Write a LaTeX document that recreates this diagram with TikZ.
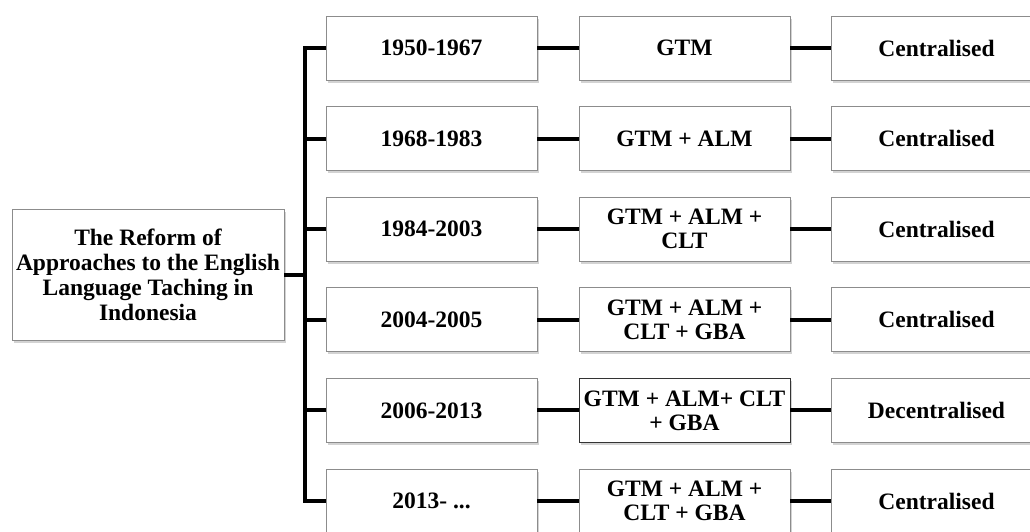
\documentclass[tikz,border=0pt]{standalone}
\usepackage{fontspec}
\setmainfont{Liberation Serif}
\usetikzlibrary{shadows}
\tikzset{
  box/.style={draw=black!45, line width=0.8pt, fill=white, minimum width=211pt, minimum height=64pt,
    inner sep=0pt, align=center, font=\fontsize{23.5}{24}\selectfont\bfseries,
    drop shadow={opacity=0.35, shadow xshift=1.5pt, shadow yshift=-2.5pt}},
  darkbox/.style={box, draw=black!80},
  link/.style={line width=4pt}
}
\begin{document}
\begin{tikzpicture}[x=1pt,y=-1pt]
\useasboundingbox (0,0) rectangle (1030,531);
\node[box, minimum width=272pt, minimum height=131pt, font=\fontsize{23.5}{25}\selectfont\bfseries] (lb) at (148,274.5)
  {The Reform of\\Approaches to the English\\Language Taching in\\Indonesia};
\coordinate (tr) at (305,274.5);
% column 1
\node[box] (a1) at (431.5,48) {1950-1967};
\node[box] (a2) at (431.5,138.6) {1968-1983};
\node[box] (a3) at (431.5,229.2) {1984-2003};
\node[box] (a4) at (431.5,319.8) {2004-2005};
\node[box] (a5) at (431.5,410.4) {2006-2013};
\node[box] (a6) at (431.5,501) {2013- ...};
% column 2
\node[box] (b1) at (684.5,48) {GTM};
\node[box] (b2) at (684.5,138.6) {GTM + ALM};
\node[box] (b3) at (684.5,229.2) {GTM + ALM +\\CLT};
\node[box] (b4) at (684.5,319.8) {GTM + ALM +\\CLT + GBA};
\node[darkbox] (b5) at (684.5,410.4) {GTM + ALM+ CLT\\+ GBA};
\node[box] (b6) at (684.5,501) {GTM + ALM +\\CLT + GBA};
% column 3
\node[box] (c1) at (936.5,48) {Centralised};
\node[box] (c2) at (936.5,138.6) {Centralised};
\node[box] (c3) at (936.5,229.2) {Centralised};
\node[box] (c4) at (936.5,319.8) {Centralised};
\node[box] (c5) at (936.5,410.4) {Decentralised};
\node[box] (c6) at (936.5,501) {Centralised};
% connectors
\draw[link] (lb.east) -- (tr);
\draw[link] (a1.west) -| (tr) |- (a6.west);
\foreach \i in {2,3,4,5} {
  \draw[link] (a\i.west) -- (a\i.west -| tr);
}
\foreach \i in {1,...,6} {
  \draw[link] (a\i.east) -- (b\i.west);
  \draw[link] (b\i.east) -- (c\i.west);
}
\end{tikzpicture}
\end{document}
